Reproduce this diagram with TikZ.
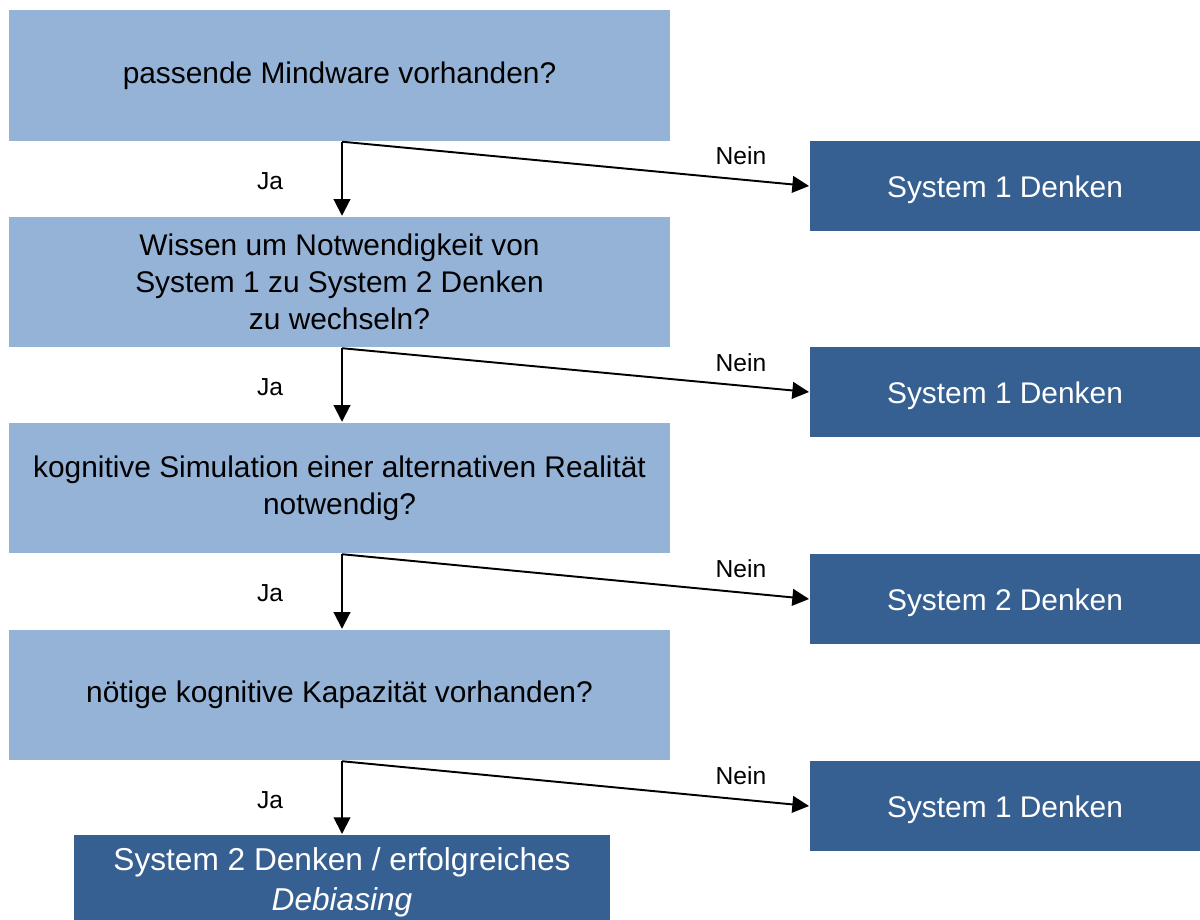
\documentclass[tikz,border=0pt]{standalone}
\usepackage{fontspec}
\setmainfont{Liberation Sans}
\usetikzlibrary{arrows.meta,calc}
\definecolor{lightblue}{HTML}{95B3D7}
\definecolor{darkblue}{HTML}{376092}
\begin{document}
\begin{tikzpicture}[>={Triangle[length=9.5pt,width=9.5pt]},line width=1.1pt,
        frage/.style={rectangle,fill=lightblue,minimum width=13.22cm,minimum height=2.61cm,inner sep=0pt,align=center,font=\fontsize{17}{21}\selectfont},
        ergebnis/.style={rectangle,fill=darkblue,text=white,minimum width=7.8cm,minimum height=1.8cm,inner sep=0pt,text height=16.5pt,text depth=3.6pt,font=\fontsize{17}{21}\selectfont},
        every node/.style={font=\fontsize{14}{17}\selectfont}]
        \useasboundingbox (0,0) rectangle (24,-18.4);
        \node[frage]    (f1) at (6.79,-1.51)  {passende Mindware vorhanden?};
        \node[frage]    (f2) at (6.79,-5.64)  {Wissen um Notwendigkeit von\\System 1 zu System 2 Denken\\zu wechseln?};
        \node[frage]    (f3) at (6.79,-9.76)  {kognitive Simulation einer alternativen Realität\\notwendig?};
        \node[frage]    (f4) at (6.79,-13.9)  {nötige kognitive Kapazität vorhanden?};
        \node[ergebnis] (e1) at (20.1,-3.72)  {System 1 Denken};
        \node[ergebnis] (e2) at (20.1,-7.84)  {System 1 Denken};
        \node[ergebnis] (e3) at (20.1,-11.98) {System 2 Denken};
        \node[ergebnis] (e4) at (20.1,-16.12) {System 1 Denken};
        \node[ergebnis,anchor=north,text height=,text depth=,align=center,minimum width=10.72cm,minimum height=1.9cm,
             font=\fontsize{18}{22.5}\selectfont] (end) at (6.84,-16.68)
             {System 2 Denken / erfolgreiches\\\textit{Debiasing}};
        \foreach \a/\b/\c in {f1/f2/e1,f2/f3/e2,f3/f4/e3,f4/end/e4}{
          \coordinate (s) at ($(\a.south)+(0.05,0)$);
          \draw[->] (s) -- (s |- \b.north);
          \draw[->] (s) -- (\c.west);
          \node (ja) at ($(s)+(-1.44,-0.78)$) {Ja};
          \node (nein) at ($(s)+(7.98,-0.28)$) {Nein};
        }
\end{tikzpicture}
\end{document}
